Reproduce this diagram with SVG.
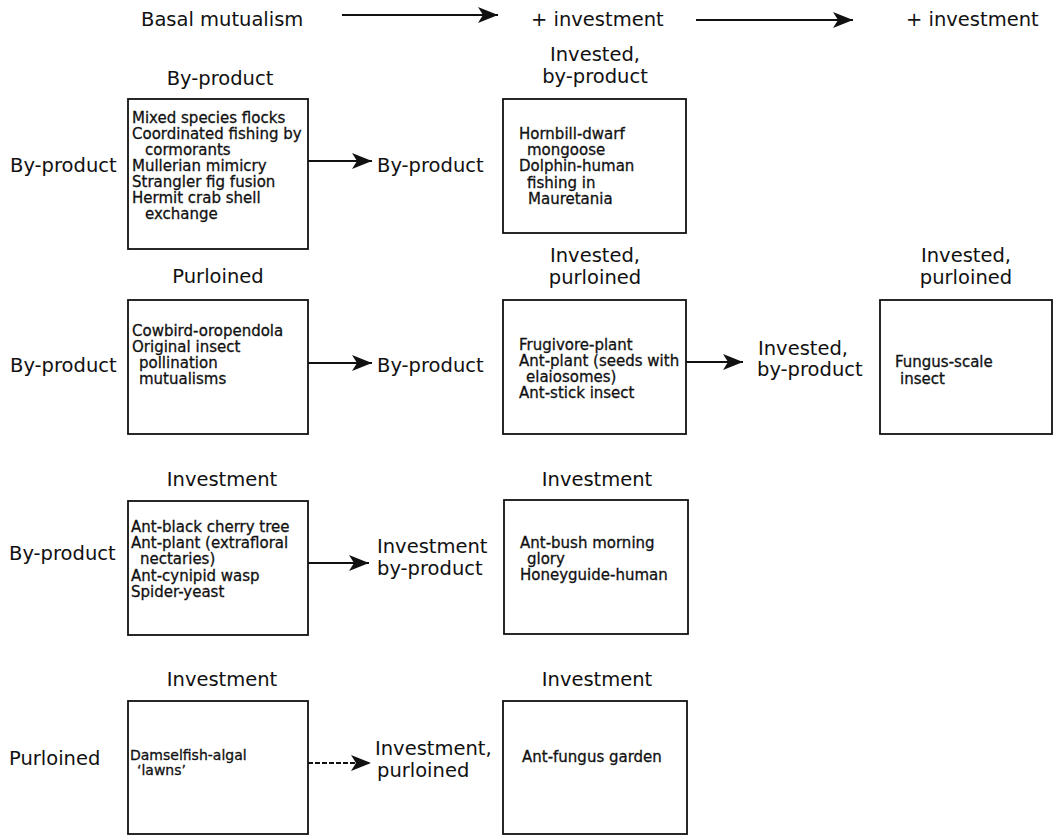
<svg xmlns="http://www.w3.org/2000/svg" width="1055" height="836" viewBox="0 0 1055 836">
<style>
.lbl{font-family:"DejaVu Sans","Liberation Sans",sans-serif;font-size:19.5px;fill:#111}
.mid{text-anchor:middle}
.bt{font-family:"DejaVu Sans","Liberation Sans",sans-serif;font-size:15px;fill:#111;stroke:#111;stroke-width:0.3}
.box{fill:#fff;stroke:#111;stroke-width:1.8}
.con{stroke:#111;stroke-width:1.8;fill:none}
</style>
<defs>
<marker id="ah" viewBox="0 0 20 16" refX="20" refY="8" markerWidth="20" markerHeight="16" markerUnits="userSpaceOnUse" orient="auto">
<path d="M0,0 L20,8 L0,16 L5,8 Z" fill="#111"/>
</marker>
</defs>
<rect width="1055" height="836" fill="#fff"/>

<g id="header">
<text class="lbl" x="141" y="26">Basal mutualism</text>
<text class="lbl" x="531" y="26">+ investment</text>
<text class="lbl" x="906" y="26">+ investment</text>
</g>

<g id="labels">
<text class="lbl mid" x="220" y="85">By-product</text>
<text class="lbl mid" x="595" y="61">Invested,</text>
<text class="lbl mid" x="595" y="83">by-product</text>
<text class="lbl" x="10" y="172">By-product</text>
<text class="lbl" x="377" y="172">By-product</text>

<text class="lbl mid" x="218" y="283">Purloined</text>
<text class="lbl mid" x="595" y="262">Invested,</text>
<text class="lbl mid" x="595" y="284">purloined</text>
<text class="lbl mid" x="966" y="262">Invested,</text>
<text class="lbl mid" x="966" y="284">purloined</text>
<text class="lbl" x="10" y="372">By-product</text>
<text class="lbl" x="377" y="372">By-product</text>
<text class="lbl" x="758" y="355">Invested,</text>
<text class="lbl" x="757" y="376">by-product</text>

<text class="lbl mid" x="222" y="486">Investment</text>
<text class="lbl mid" x="597" y="486">Investment</text>
<text class="lbl" x="9" y="560">By-product</text>
<text class="lbl" x="377" y="553">Investment</text>
<text class="lbl" x="377" y="575">by-product</text>

<text class="lbl mid" x="222" y="686">Investment</text>
<text class="lbl mid" x="597" y="686">Investment</text>
<text class="lbl" x="9" y="765">Purloined</text>
<text class="lbl" x="375" y="755">Investment,</text>
<text class="lbl" x="377" y="777">purloined</text>
</g>

<g id="node-byproduct-basal">
<rect class="box" x="128" y="99" width="180" height="150"/>
<text class="bt" x="132" y="123">Mixed species flocks</text>
<text class="bt" x="132" y="139">Coordinated fishing by</text>
<text class="bt" x="145" y="155">cormorants</text>
<text class="bt" x="132" y="171">Mullerian mimicry</text>
<text class="bt" x="132" y="187">Strangler fig fusion</text>
<text class="bt" x="132" y="203">Hermit crab shell</text>
<text class="bt" x="145" y="219">exchange</text>
</g>

<g id="node-invested-byproduct">
<rect class="box" x="503" y="99" width="183" height="134"/>
<text class="bt" x="519" y="139">Hornbill-dwarf</text>
<text class="bt" x="527" y="155">mongoose</text>
<text class="bt" x="519" y="171">Dolphin-human</text>
<text class="bt" x="527" y="188">fishing in</text>
<text class="bt" x="528" y="204">Mauretania</text>
</g>

<g id="node-purloined-basal">
<rect class="box" x="128" y="300" width="180" height="134"/>
<text class="bt" x="132" y="335.5">Cowbird-oropendola</text>
<text class="bt" x="132" y="351.5">Original insect</text>
<text class="bt" x="139" y="367.5">pollination</text>
<text class="bt" x="139" y="383.5">mutualisms</text>
</g>

<g id="node-invested-purloined">
<rect class="box" x="503" y="300" width="183" height="134"/>
<text class="bt" x="519" y="350">Frugivore-plant</text>
<text class="bt" x="519" y="366">Ant-plant (seeds with</text>
<text class="bt" x="526" y="382">elaiosomes)</text>
<text class="bt" x="519" y="398">Ant-stick insect</text>
</g>

<g id="node-invested-purloined-2">
<rect class="box" x="880" y="300" width="172" height="134"/>
<text class="bt" x="895" y="367">Fungus-scale</text>
<text class="bt" x="900" y="384">insect</text>
</g>

<g id="node-investment-basal">
<rect class="box" x="128" y="501" width="180" height="134"/>
<text class="bt" x="131" y="531.5">Ant-black cherry tree</text>
<text class="bt" x="131" y="548">Ant-plant (extrafloral</text>
<text class="bt" x="140" y="564">nectaries)</text>
<text class="bt" x="131" y="580.5">Ant-cynipid wasp</text>
<text class="bt" x="131" y="597">Spider-yeast</text>
</g>

<g id="node-investment-2">
<rect class="box" x="504" y="500" width="184" height="134"/>
<text class="bt" x="520" y="547.5">Ant-bush morning</text>
<text class="bt" x="527" y="563.5">glory</text>
<text class="bt" x="520" y="580">Honeyguide-human</text>
</g>

<g id="node-investment-purloined-basal">
<rect class="box" x="128" y="701" width="180" height="133"/>
<text class="bt" x="130" y="760" style="font-size:14px">Damselfish-algal</text>
<text class="bt" x="137" y="775" style="font-size:14px">‘lawns’</text>
</g>

<g id="node-investment-purloined">
<rect class="box" x="503" y="701" width="184" height="133"/>
<text class="bt" x="522" y="762">Ant-fungus garden</text>
</g>

<g id="connectors">
<line class="con" x1="342" y1="15" x2="498" y2="15" marker-end="url(#ah)"/>
<line class="con" x1="696" y1="20" x2="853" y2="20" marker-end="url(#ah)"/>
<line class="con" x1="308" y1="161" x2="372" y2="161" marker-end="url(#ah)"/>
<line class="con" x1="308" y1="363" x2="372" y2="363" marker-end="url(#ah)"/>
<line class="con" x1="686" y1="362" x2="743" y2="362" marker-end="url(#ah)"/>
<line class="con" x1="308" y1="563" x2="369" y2="563" marker-end="url(#ah)"/>
<line class="con" x1="308" y1="763" x2="371" y2="763" stroke-dasharray="5 2" marker-end="url(#ah)"/>
</g>
</svg>
